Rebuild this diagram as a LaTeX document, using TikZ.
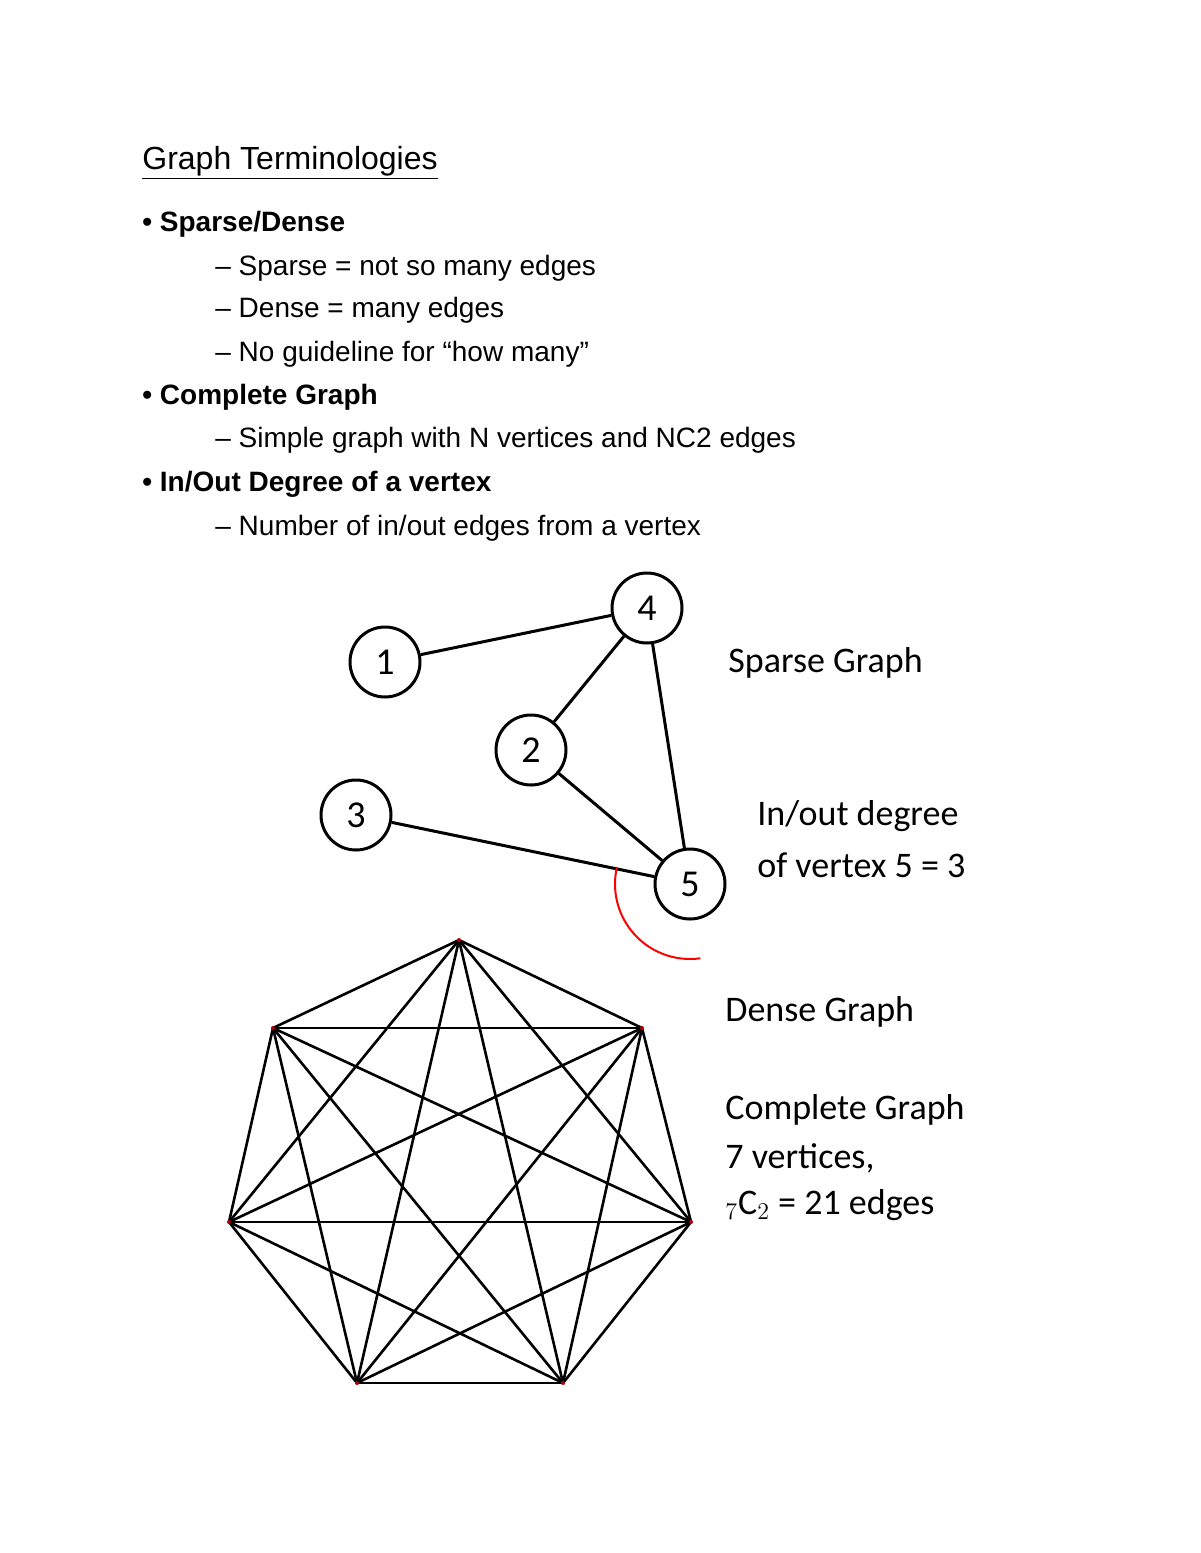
\documentclass[tikz,border=0pt]{standalone}
\usepackage{fontspec}
\setmainfont{Liberation Sans}
\newfontfamily\labfont{Carlito}
\usetikzlibrary{positioning}
\tikzset{
  vtx/.style={circle, draw, line width=1.5pt, minimum size=35pt, inner sep=0pt, font=\labfont\fontsize{19}{22}\selectfont},
  edg/.style={line width=1.5pt},
  kedg/.style={line width=1.3pt},
  txt/.style={anchor=west, inner sep=0pt, font=\fontsize{14}{16}\selectfont},
  lab/.style={anchor=west, inner sep=0pt, font=\labfont\fontsize{18}{21}\selectfont},
}
\begin{document}
\begin{tikzpicture}[x=0.5pt,y=-0.5pt]
\useasboundingbox[fill=white] (0,0) rectangle (1200,1553);
% text block
\node[txt, font=\fontsize{16}{18}\selectfont] (title) at (142,163) {\underline{Graph Terminologies}};
\node[txt] (b1) at (142,224) {\textbf{• Sparse/Dense}};
\node[txt] (s1) at (215,268) {– Sparse = not so many edges};
\node[txt] (s2) at (215,310) {– Dense = many edges};
\node[txt] (s3) at (215,354) {– No guideline for “how many”};
\node[txt] (b2) at (142,397) {\textbf{• Complete Graph}};
\node[txt] (s4) at (215,440) {– Simple graph with N vertices and NC2 edges};
\node[txt] (b3) at (142,484) {\textbf{• In/Out Degree of a vertex}};
\node[txt] (s5) at (215,528) {– Number of in/out edges from a vertex};
% sparse graph
\node[vtx] (n1) at (385,662) {1};
\node[vtx] (n4) at (647,608) {4};
\node[vtx] (n2) at (531,750) {2};
\node[vtx] (n3) at (356,815) {3};
\node[vtx] (n5) at (690,884) {5};
\draw[edg] (n1) -- (n4);
\draw[edg] (n2) -- (n4);
\draw[edg] (n4) -- (n5);
\draw[edg] (n2) -- (n5);
\draw[edg] (n3) -- (n5);
\draw[red, line width=1pt] (n5.center) ++(82:75) arc[start angle=82, end angle=193, radius=75];
\node[lab] (sp) at (728,663) {Sparse Graph};
\node[lab] (io1) at (757,816) {In/out degree};
\node[lab] (io2) at (757,865) {of vertex 5 = 3};
% complete graph
\coordinate (k1) at (459,940);
\coordinate (k2) at (642,1028);
\coordinate (k3) at (691,1222);
\coordinate (k4) at (563,1383);
\coordinate (k5) at (357,1383);
\coordinate (k6) at (229,1222);
\coordinate (k7) at (273,1028);
\foreach \ka in {1,...,6}{
  \pgfmathtruncatemacro\kc{\ka+1}
  \foreach \kb in {\kc,...,7}
    \draw[kedg] (k\ka) -- (k\kb);
}
\foreach \kn in {1,...,7}
  \fill[red!70!black] (k\kn) circle (2);
\node[lab] (dg) at (725,1012) {Dense Graph};
\node[lab] (cg) at (725,1110) {Complete Graph};
\node[lab] (cv) at (725,1158) {7 vertices,};
\node[lab] (ce) at (725,1205) {$_7$C$_2$ = 21 edges};
\end{tikzpicture}
\end{document}
